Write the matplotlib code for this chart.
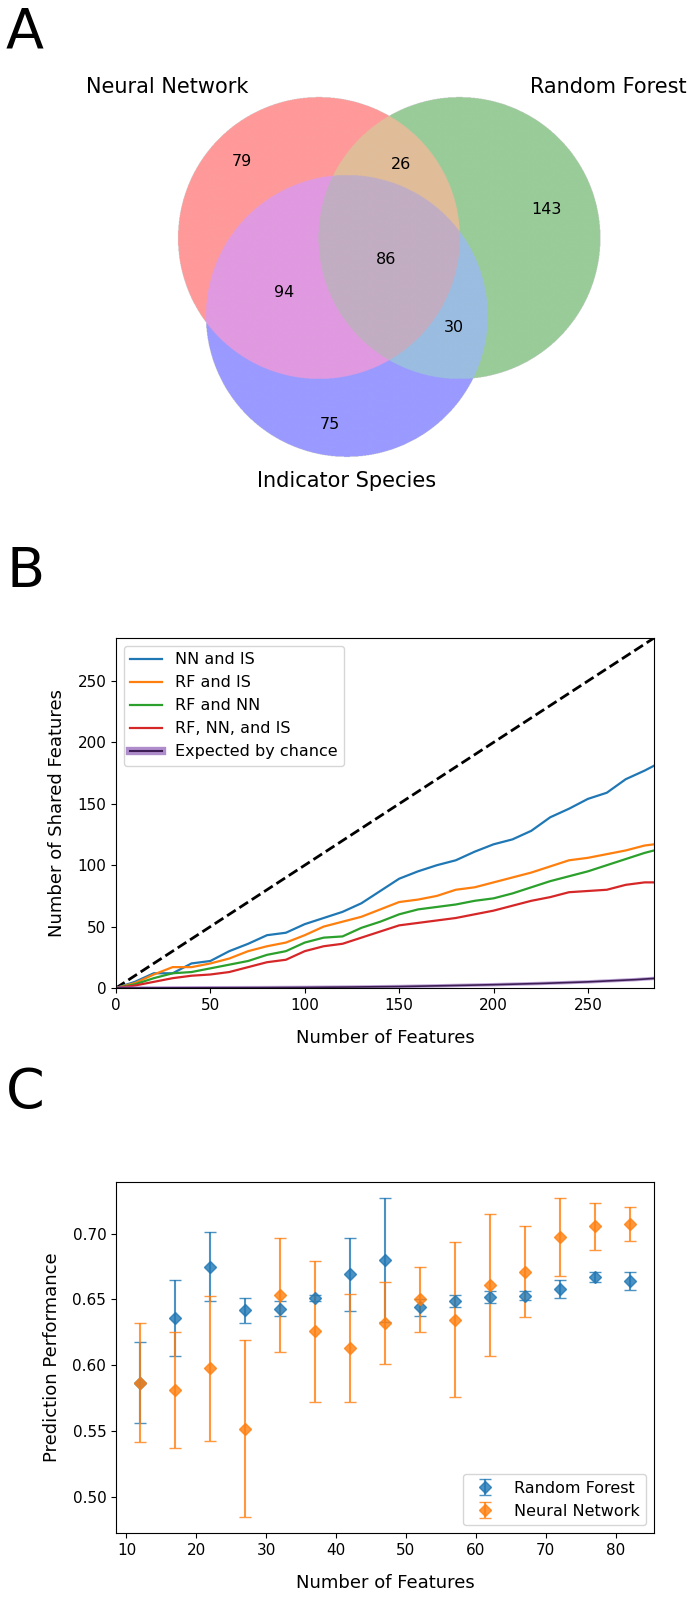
import numpy as np
import matplotlib.pyplot as plt
from matplotlib.colors import to_rgb
from matplotlib.lines import Line2D

plt.rcParams['font.family'] = ['DejaVu Sans']

# ---- panel A: venn region counts, membership flags are (NN, RF, IS)
venn_sets = ['Neural Network', 'Random Forest', 'Indicator Species']
venn_keys = ['100', '010', '110', '001', '101', '011', '111']
venn_counts = [79, 143, 26, 75, 94, 30, 86]
venn_colors = ['r', 'g', 'b']

# ---- panel B: shared features as the top-N list grows
n_features = [0, 10, 20, 30, 40, 50, 60, 70, 80, 90, 100, 110, 120, 130, 140,
              150, 160, 170, 180, 190, 200, 210, 220, 230, 240, 250, 260, 270, 280, 285]
nn_is = [0, 5, 12, 12, 20, 22, 30, 36, 43, 45, 52, 57, 62, 69, 79,
         89, 95, 100, 104, 111, 117, 121, 128, 139, 146, 154, 159, 170, 177, 181]
rf_is = [0, 4, 11, 17, 17, 20, 24, 30, 34, 37, 43, 50, 54, 58, 64,
         70, 72, 75, 80, 82, 86, 90, 94, 99, 104, 106, 109, 112, 116, 117]
rf_nn = [0, 3, 8, 12, 13, 16, 19, 22, 27, 30, 37, 41, 42, 49, 54,
         60, 64, 66, 68, 71, 73, 77, 82, 87, 91, 95, 100, 105, 110, 112]
rf_nn_is = [0, 2, 5, 8, 10, 11, 13, 17, 21, 23, 30, 34, 36, 41, 46,
            51, 53, 55, 57, 60, 63, 67, 71, 74, 78, 79, 80, 84, 86, 86]
chance_x = [0, 25, 50, 75, 100, 125, 150, 175, 200, 225, 250, 275, 285]
chance_y = [0, 0.1, 0.2, 0.3, 0.5, 0.8, 1.2, 1.9, 2.7, 3.7, 5.0, 6.8, 7.8]
n_total = 285

# ---- panel C: prediction performance vs number of features
n_feat = [12, 17, 22, 27, 32, 37, 42, 47, 52, 57, 62, 67, 72, 77, 82]
rf_mean = [0.587, 0.636, 0.675, 0.642, 0.643, 0.651, 0.669, 0.680, 0.644, 0.649,
           0.652, 0.653, 0.658, 0.667, 0.664]
rf_err = [0.031, 0.029, 0.026, 0.0095, 0.0055, 0.0025, 0.028, 0.047, 0.0065, 0.0045,
          0.0045, 0.0035, 0.007, 0.0035, 0.007]
nn_mean = [0.587, 0.581, 0.598, 0.552, 0.6535, 0.626, 0.6135, 0.632, 0.650, 0.6347,
           0.661, 0.671, 0.6975, 0.7055, 0.7075]
nn_err = [0.045, 0.044, 0.055, 0.067, 0.043, 0.0535, 0.041, 0.031, 0.025, 0.059,
          0.0535, 0.0345, 0.0295, 0.018, 0.013]

W, H = 695, 1598
fig = plt.figure(figsize=(W / 100, H / 100), dpi=100)


# ---------------- A: area-weighted 3-circle venn ----------------
def lens_area(d, r1, r2):
    if d >= r1 + r2:
        return 0.0
    if d <= abs(r1 - r2):
        return np.pi * min(r1, r2) ** 2
    a1 = r1 ** 2 * np.arccos((d * d + r1 * r1 - r2 * r2) / (2 * d * r1))
    a2 = r2 ** 2 * np.arccos((d * d + r2 * r2 - r1 * r1) / (2 * d * r2))
    k = 0.5 * np.sqrt((-d + r1 + r2) * (d + r1 - r2) * (d - r1 + r2) * (d + r1 + r2))
    return a1 + a2 - k


def solve_dist(target, r1, r2):
    lo, hi = abs(r1 - r2), r1 + r2
    for _ in range(80):
        mid = (lo + hi) / 2
        if lens_area(mid, r1, r2) > target:
            lo = mid
        else:
            hi = mid
    return (lo + hi) / 2


counts = dict(zip(venn_keys, venn_counts))
sizes = np.array([sum(c for k, c in counts.items() if k[i] == '1') for i in range(3)])
unit = sizes.max() / np.pi          # set size that maps to area pi (radius 1)
radii = np.sqrt(sizes / sizes.max())


def pair(i, j):
    return sum(c for k, c in counts.items() if k[i] == '1' and k[j] == '1')


d_ab = solve_dist(pair(0, 1) / unit, radii[0], radii[1])
d_ac = solve_dist(pair(0, 2) / unit, radii[0], radii[2])
d_bc = solve_dist(pair(1, 2) / unit, radii[1], radii[2])
cx = (d_ac ** 2 - d_bc ** 2 + d_ab ** 2) / (2 * d_ab)
centers = np.array([[0, 0], [d_ab, 0], [cx, -np.sqrt(d_ac ** 2 - cx ** 2)]])

# one venn unit = 141 px, circle A centred at (319, 238) px from the top-left
px, ox, oy, venn_h = 141.0, 319.0, 238.0, 500.0
axA = fig.add_axes([0, 1 - venn_h / H, 1, venn_h / H])
xlim = (-ox / px, (W - ox) / px)
ylim = (-(venn_h - oy) / px, oy / px)

gx = np.linspace(*xlim, 1600)
gy = np.linspace(*ylim, 1150)
GX, GY = np.meshgrid(gx, gy)
inside = [np.hypot(GX - c[0], GY - c[1]) <= r for c, r in zip(centers, radii)]
base = [np.array(to_rgb(c)) for c in venn_colors]
theta = np.linspace(0, 2 * np.pi, 3600, endpoint=False)
img = np.zeros(GX.shape + (4,))
for key in venn_keys:
    members = [i for i in range(3) if key[i] == '1']
    col = sum(base[i] for i in members)
    if len(members) == 2:
        col = 0.7 * col
    elif len(members) == 3:
        col = 0.4 * col
    col = np.minimum(col, 1.0)
    mask = np.ones(GX.shape, bool)
    for i in range(3):
        mask &= inside[i] if key[i] == '1' else ~inside[i]
    img[mask] = list(col) + [0.4]
    lx, ly = GX[mask].mean(), GY[mask].mean()
    if len(members) == 1:
        # single-set regions: pull the label towards the middle of the free outer arc
        i = members[0]
        ex = centers[i][0] + radii[i] * np.cos(theta)
        ey = centers[i][1] + radii[i] * np.sin(theta)
        free = np.ones_like(theta, bool)
        for j in range(3):
            if j != i:
                free &= np.hypot(ex - centers[j][0], ey - centers[j][1]) > radii[j]
        ang = np.arctan2(np.sin(theta[free]).mean(), np.cos(theta[free]).mean())
        mx = centers[i][0] + radii[i] * np.cos(ang)
        my = centers[i][1] + radii[i] * np.sin(ang)
        lx, ly = lx + 0.4 * (mx - lx), ly + 0.4 * (my - ly)
    axA.text(lx, ly, str(counts[key]), ha='center', va='center', fontsize=11.5)

axA.imshow(img, extent=(*xlim, *ylim), origin='lower', aspect='auto',
           interpolation='antialiased')
axA.set_xlim(xlim)
axA.set_ylim(ylim)
axA.set_axis_off()
axA.text(centers[0][0] - radii[0] / 2, centers[0][1] + radii[0], venn_sets[0],
         ha='right', va='bottom', fontsize=15)
axA.text(centers[1][0] + radii[1] / 2, centers[1][1] + radii[1], venn_sets[1],
         ha='left', va='bottom', fontsize=15)
axA.text(centers[2][0], centers[2][1] - 1.1 * radii[2], venn_sets[2],
         ha='center', va='top', fontsize=15)

# ---------------- B: cumulative shared features ----------------
axB = fig.add_axes([116 / W, 1 - 988 / H, 538 / W, 350 / H])
axB.plot([0, n_total], [0, n_total], 'k--', lw=2)
axB.plot(n_features, nn_is, color='tab:blue', lw=1.6, label='NN and IS')
axB.plot(n_features, rf_is, color='tab:orange', lw=1.6, label='RF and IS')
axB.plot(n_features, rf_nn, color='tab:green', lw=1.6, label='RF and NN')
axB.plot(n_features, rf_nn_is, color='tab:red', lw=1.6, label='RF, NN, and IS')
axB.plot(chance_x, chance_y, color='tab:purple', lw=2.5, alpha=0.6)
axB.plot(chance_x, chance_y, color='#3d1f55', lw=1.2)
handles, labels = axB.get_legend_handles_labels()
band = Line2D([], [], color='tab:purple', lw=6, alpha=0.75)
core = Line2D([], [], color='#3d1f55', lw=1.5)
axB.legend(handles + [(band, core)], labels + ['Expected by chance'],
           loc='upper left', fontsize=11.5)
axB.set_xlim(0, n_total)
axB.set_ylim(0, n_total)
axB.tick_params(labelsize=11)
axB.set_xlabel('Number of Features', fontsize=13, labelpad=12)
axB.set_ylabel('Number of Shared Features', fontsize=13, labelpad=8)

# ---------------- C: prediction performance ----------------
axC = fig.add_axes([116 / W, 1 - 1533 / H, 538 / W, 351 / H])
axC.errorbar(n_feat, rf_mean, yerr=rf_err, fmt='D', color='tab:blue', alpha=0.8,
             capsize=4, markersize=6.5, elinewidth=1.5, label='Random Forest')
axC.errorbar(n_feat, nn_mean, yerr=nn_err, fmt='D', color='tab:orange', alpha=0.8,
             capsize=4, markersize=6.5, elinewidth=1.5, label='Neural Network')
axC.legend(loc='lower right', fontsize=11.5)
axC.set_yticks([0.50, 0.55, 0.60, 0.65, 0.70])
axC.tick_params(labelsize=11)
axC.set_xlabel('Number of Features', fontsize=13, labelpad=12)
axC.set_ylabel('Prediction Performance', fontsize=13, labelpad=8)

# panel letters
for letter, top in [('A', 6), ('B', 545), ('C', 1066)]:
    fig.text(6 / W, 1 - top / H, letter, fontsize=40, va='top', ha='left')

fig.savefig('out.png', dpi=100)
